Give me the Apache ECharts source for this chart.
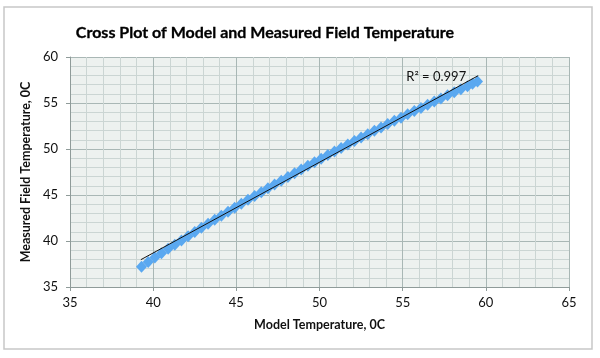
<!DOCTYPE html>
<html><head><meta charset="utf-8">
<script src="https://cdn.jsdelivr.net/npm/echarts@6/dist/echarts.min.js"></script>
<style>html,body{margin:0;padding:0;background:#fff}#c{width:600px;height:358px}</style>
</head><body><div id="c"></div>
<script>
const modelTemp = [39.3,39.7,40.1,40.5,40.9,41.3,41.7,42.1,42.5,42.9,43.3,43.7,44.1,44.5,44.9,45.3,45.7,46.1,46.5,46.9,47.3,47.7,48.1,48.5,48.9,49.3,49.7,50.1,50.5,50.9,51.3,51.7,52.1,52.5,52.9,53.3,53.7,54.1,54.5,54.9,55.3,55.7,56.1,56.5,56.9,57.3,57.7,58.1,58.5,58.9,59.2,59.5];
const measuredTemp = [37.2,37.73,38.21,38.68,39.15,39.6,40.06,40.52,40.97,41.43,41.87,42.32,42.75,43.18,43.62,44.05,44.48,44.9,45.31,45.74,46.14,46.56,46.96,47.37,47.77,48.17,48.56,48.95,49.34,49.72,50.11,50.48,50.86,51.24,51.6,51.98,52.34,52.71,53.06,53.41,53.77,54.12,54.47,54.82,55.16,55.5,55.83,56.17,56.5,56.83,57.08,57.33];
const trendX = [39.26, 59.54];
const trendY = [37.97, 57.97];
const r2Label = 'R² = 0.997';
const xTicks = [35,40,45,50,55,60,65];
const yTicks = [35,40,45,50,55,60];

const chart = echarts.init(document.getElementById('c'));
const font = 'Lato, "Open Sans", sans-serif';
const pts = modelTemp.map((x,i)=>[x, measuredTemp[i]]);
const trend = trendX.map((x,i)=>[x, trendY[i]]);
trend[1] = {value: trend[1], label:{show:true, position:'left', distance:12, offset:[0,1], formatter:r2Label, color:'#111', fontSize:13, fontFamily:font}};
const axisCommon = (ticks)=>({
  type:'value', min:ticks[0], max:ticks[ticks.length-1], interval:5,
  axisLine:{show:true, lineStyle:{color:'#8f9b99', width:1}},
  axisTick:{show:true, length:4, lineStyle:{color:'#8f9b99'}},
  axisLabel:{color:'#111', fontSize:13, fontFamily:font},
  splitLine:{show:true, lineStyle:{color:'#a9b7b5', width:1}},
  minorTick:{show:false, splitNumber:5},
  minorSplitLine:{show:true, lineStyle:{color:'#cbd5d3', width:1}},
  nameLocation:'middle',
  nameTextStyle:{color:'#111', fontWeight:'bold', fontSize:12.5, fontFamily:font}
});
chart.setOption({
  animation:false,
  backgroundColor:'#fff',
  title:{text:'Cross Plot of Model and Measured Field Temperature', left:260, top:20, textAlign:'center',
    textStyle:{fontSize:16, fontWeight:'bold', color:'#000', fontFamily:font, textBorderColor:'#000', textBorderWidth:0.3}},
  graphic:[{type:'rect', shape:{x:4,y:7,width:588,height:342}, style:{fill:null, stroke:'#c7c7c7', lineWidth:1.5}, silent:true, z:-1}],
  grid:{left:70, right:31, top:57, bottom:71, show:true, backgroundColor:'#edf1ef', borderWidth:0},
  xAxis:Object.assign(axisCommon(xTicks), {name:'Model Temperature, 0C', nameGap:31, axisLabel:{color:'#111', fontSize:13, fontFamily:font, margin:9}}),
  yAxis:Object.assign(axisCommon(yTicks), {name:'Measured Field Temperature, 0C', nameGap:38, axisLabel:{color:'#111', fontSize:13, fontFamily:font, margin:12}}),
  series:[
    {type:'scatter', data:pts, symbol:'diamond', symbolSize:[11,12], itemStyle:{color:'#5aa8f0', opacity:1}, z:2},
    {type:'line', data:trend, symbol:'circle', symbolSize:0, showSymbol:true, lineStyle:{color:'#111', width:1}, z:3}
  ]
});
</script></body></html>
